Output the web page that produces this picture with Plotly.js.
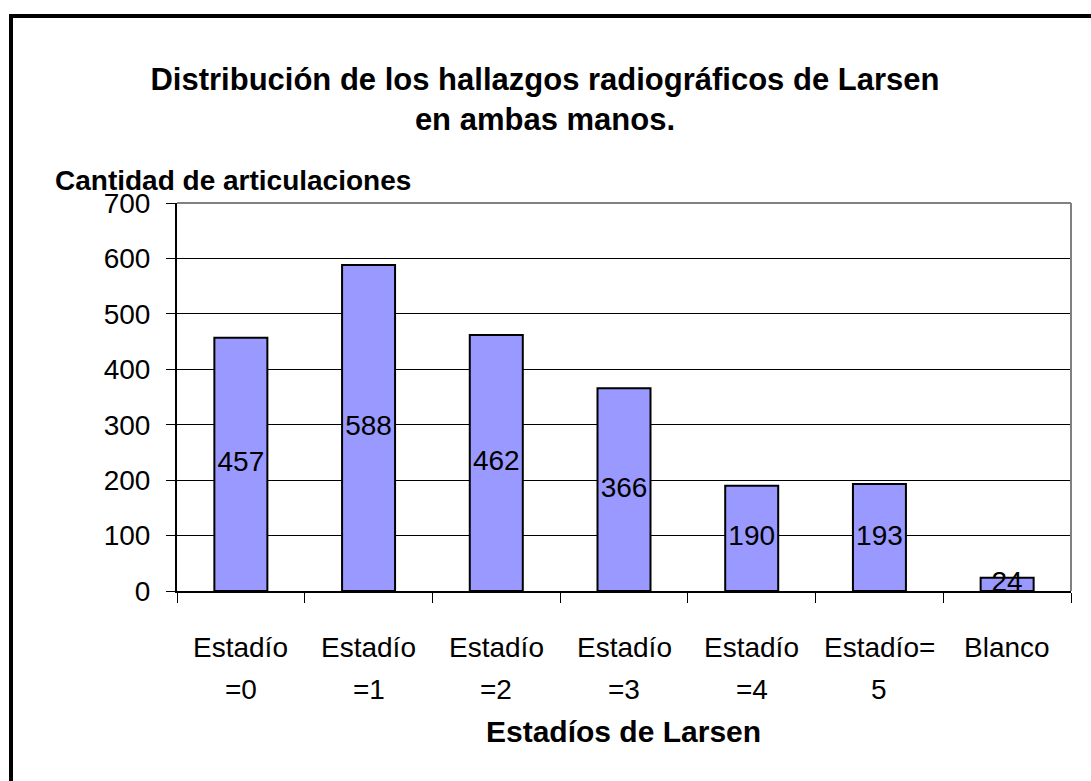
<!DOCTYPE html>
<html>
<head>
<meta charset="utf-8">
<script src="https://cdn.plot.ly/plotly-3.0.1.min.js"></script>
<style>
  html, body { margin: 0; padding: 0; width: 1091px; height: 781px; overflow: hidden; background: #fff; }
  #chart { position: absolute; left: 0; top: 0; width: 1091px; height: 781px; }
  #frame { position: absolute; left: 9px; top: 14px; width: 2000px; height: 2000px;
           border-top: 4px solid #000; border-left: 4px solid #000; pointer-events: none; }
</style>
</head>
<body>
<div id="chart"></div>
<div id="frame"></div>
<script>
// ---- data ----
const categories = ["Estadío =0", "Estadío =1", "Estadío =2", "Estadío =3", "Estadío =4", "Estadío= 5", "Blanco"];
const labelLine1 = ["Estadío", "Estadío", "Estadío", "Estadío", "Estadío", "Estadío=", "Blanco"];
const labelLine2 = ["=0", "=1", "=2", "=3", "=4", "5", ""];
const values = [457, 588, 462, 366, 190, 193, 24];
const yTicks = [0, 100, 200, 300, 400, 500, 600, 700];
const titleText = "Distribución de los hallazgos radiográficos de Larsen<br>en ambas manos.";
const yTitle = "Cantidad de articulaciones";
const xTitle = "Estadíos de Larsen";

const FONT = "Arial, 'Liberation Sans', sans-serif";
const FS = 28;

const bars = {
  type: "bar",
  x: categories,
  y: values,
  marker: { color: "#9999FF", line: { color: "#000", width: 2 } },
  hoverinfo: "skip"
};
const labels = {
  type: "scatter",
  mode: "text",
  x: categories,
  y: values.map(v => v / 2),
  text: values.map(String),
  textposition: "middle center",
  textfont: { family: FONT, size: FS, color: "#000" },
  hoverinfo: "skip",
  cliponaxis: false
};

const annotations = [];
categories.forEach((c, i) => {
  annotations.push({ xref: "x", yref: "paper", x: c, y: -0.145, text: labelLine1[i],
    showarrow: false, xanchor: "center", yanchor: "middle", font: { family: FONT, size: FS, color: "#000" } });
  if (labelLine2[i]) annotations.push({ xref: "x", yref: "paper", x: c, y: -0.253, text: labelLine2[i],
    showarrow: false, xanchor: "center", yanchor: "middle", font: { family: FONT, size: FS, color: "#000" } });
});
annotations.push({ xref: "paper", yref: "paper", x: (53 - 177) / 894, y: (591 - 180) / 388, text: "<b>" + yTitle + "</b>",
  showarrow: false, xanchor: "left", yanchor: "middle", font: { family: FONT, size: FS, color: "#000" } });
annotations.push({ xref: "paper", yref: "paper", x: (623 - 177) / 894, y: (591 - 731) / 388, text: "<b>" + xTitle + "</b>",
  showarrow: false, xanchor: "center", yanchor: "middle", font: { family: FONT, size: 30, color: "#000" } });

const layout = {
  width: 1091, height: 781,
  margin: { l: 177, r: 20, t: 203, b: 190 },
  paper_bgcolor: "#fff", plot_bgcolor: "#fff",
  showlegend: false,
  bargap: 0.585,
  title: { text: "<b>" + titleText + "</b>", x: 0.4995, xref: "container", y: 1 - 90 / 781, yref: "container",
           xanchor: "center", yanchor: "top", font: { family: FONT, size: 31, color: "#000" } },
  xaxis: {
    type: "category", categoryorder: "array", categoryarray: categories,
    showticklabels: false, ticks: "outside", tickson: "boundaries", ticklen: 10, tickcolor: "#000", tickwidth: 1,
    showline: true, linecolor: "#000", linewidth: 2, showgrid: false, zeroline: false, fixedrange: true
  },
  yaxis: {
    range: [0, 700], tickvals: yTicks, ticktext: yTicks.map(String),
    ticks: "outside", ticklen: 9, tickcolor: "#000", tickwidth: 1, ticklabelstandoff: 10,
    tickfont: { family: FONT, size: FS, color: "#000" },
    showline: true, linecolor: "#000", linewidth: 2,
    showgrid: true, gridcolor: "#000", gridwidth: 1, zeroline: false, fixedrange: true
  },
  shapes: [
    { type: "line", xref: "paper", yref: "paper", x0: 0, x1: 1, y0: 1, y1: 1, line: { color: "#808080", width: 2 }, layer: "above" },
    { type: "line", xref: "paper", yref: "paper", x0: 1, x1: 1, y0: 0, y1: 1, line: { color: "#808080", width: 2 }, layer: "above" }
  ],
  annotations: annotations
};

Plotly.newPlot("chart", [bars, labels], layout, { staticPlot: true, displayModeBar: false });
</script>
</body>
</html>
